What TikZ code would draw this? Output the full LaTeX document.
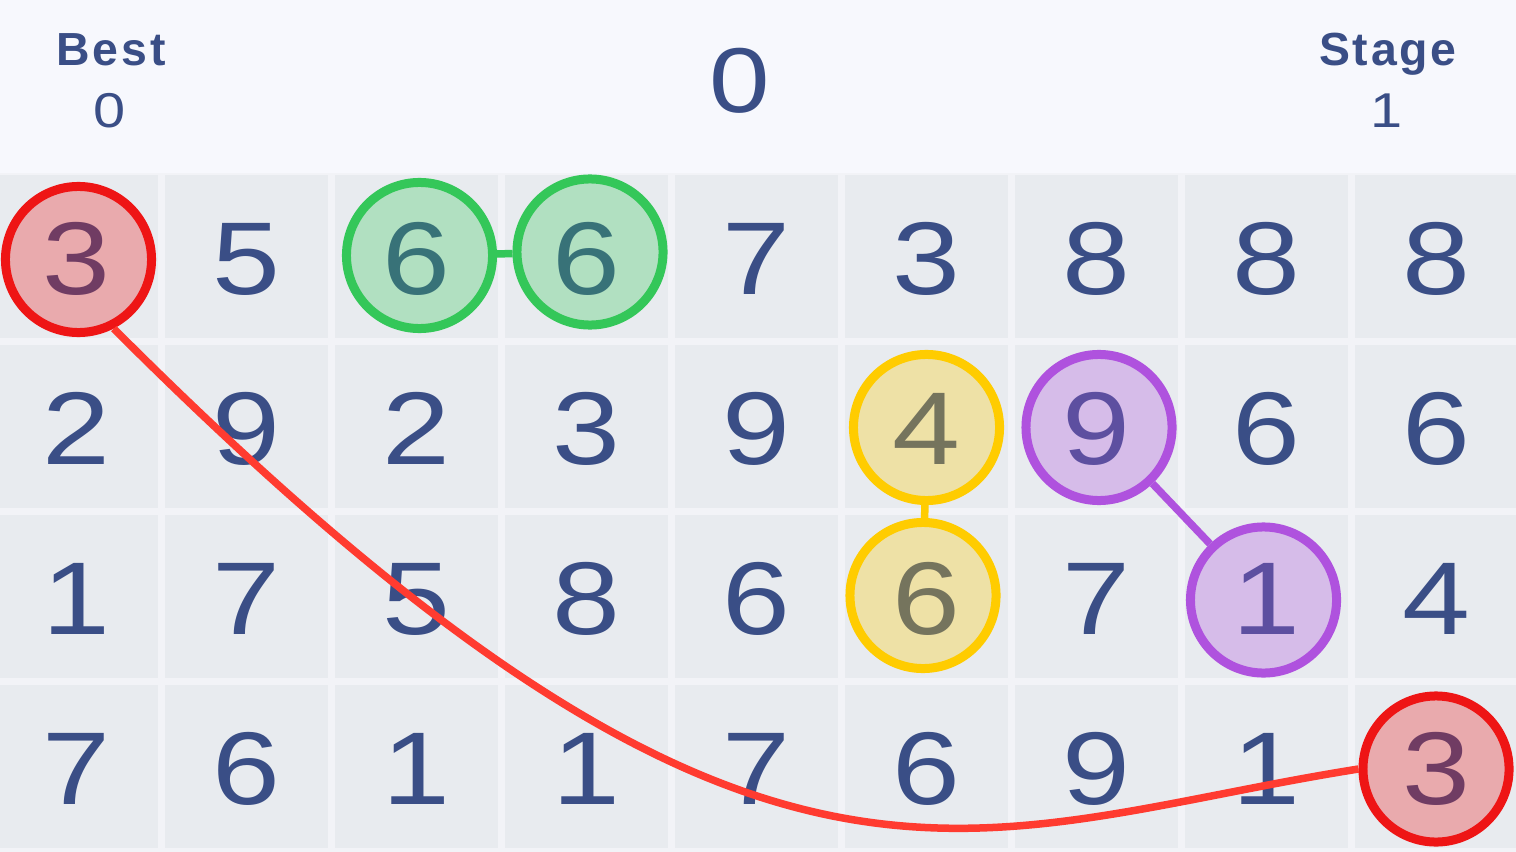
\documentclass[tikz,border=0pt]{standalone}
\usepackage{fontspec}
\setmainfont{Liberation Sans}
\newfontfamily\digitfont[FakeStretch=1.18]{Liberation Sans}
\newfontfamily\labelfont[LetterSpace=6]{Liberation Sans}
\definecolor{ink}{HTML}{3A4E86}
\definecolor{headerbg}{HTML}{F7F8FD}
\definecolor{gapbg}{HTML}{F2F3F7}
\definecolor{cellbg}{HTML}{E8EBEF}
\definecolor{ringred}{HTML}{EE1515}
\definecolor{curvered}{HTML}{FF3B30}
\definecolor{ringgreen}{HTML}{34C759}
\definecolor{ringyellow}{HTML}{FFCC00}
\definecolor{ringpurple}{HTML}{AF52DE}
\tikzset{
  digit/.style={font=\digitfont\fontsize{29.4}{30}\selectfont, text=ink, inner sep=0pt, text depth=0pt},
  ring/.style={circle, draw=#1, fill=#1, fill opacity=0.3, draw opacity=1, line width=0.09cm, minimum size=1.46cm, inner sep=0pt},
  linkline/.style={draw=#1, line width=0.075cm},
  curveline/.style={draw=curvered, line width=0.075cm},
  headlabel/.style={font=\labelfont\bfseries\fontsize{13.2}{14}\selectfont, text=ink, anchor=base, inner sep=0pt},
  headvalue/.style={font=\digitfont\fontsize{13.9}{15}\selectfont, text=ink, anchor=base, inner sep=0pt},
  score/.style={font=\digitfont\fontsize{26.2}{28}\selectfont, text=ink, anchor=base, inner sep=0pt}
}
\begin{document}
\begin{tikzpicture}[x=0.01cm,y=-0.01cm]
\useasboundingbox (0,0) rectangle (1516,852);
\fill[headerbg] (0,0) rectangle (1516,173);
\fill[gapbg] (0,173) rectangle (1516,852);
\foreach \r in {0,...,3} {
  \foreach \c in {0,...,8} {
    \fill[cellbg] ({-5+170*\c},{175+170*\r}) rectangle +(163,163);
  }
}
\foreach \row [count=\r from 0] in {{3,5,6,6,7,3,8,8,8},{2,9,2,3,9,4,9,6,6},{1,7,5,8,6,6,7,1,4},{7,6,1,1,7,6,9,1,3}} {
  \foreach \d [count=\c from 0] in \row {
    \node[digit] (d\r\c) at ({76.5+170*\c},{258.5+170*\r}) {\d};
  }
}
% header
\node[headlabel] (best) at (111,66) {Best};
\node[headvalue] (bestval) at (110,128) {0};
\node[score] (score) at (740,113) {0};
\node[headlabel] (stage) at (1388,66) {Stage};
\node[headvalue] (stageval) at (1387,128) {1};
% rings
\node[ring=ringred] (r1) at (78.5,259.5) {};
\node[ring=ringred] (r2) at (1436,769) {};
\node[ring=ringgreen] (g1) at (419.5,255.5) {};
\node[ring=ringgreen] (g2) at (590,252) {};
\node[ring=ringyellow] (y4) at (926.5,427.5) {};
\node[ring=ringyellow] (y6) at (923,595.5) {};
\node[ring=ringpurple] (p9) at (1099,427.5) {};
\node[ring=ringpurple] (p1) at (1263.5,600) {};
% connectors
\draw[linkline=ringgreen] (g1) -- (g2);
\draw[linkline=ringyellow] (y4) -- (y6);
\draw[linkline=ringpurple] (p9) -- (p1);
\draw[curveline] (r1.-63) .. controls (762,977) and (962,832) .. (r2.west);
\end{tikzpicture}
\end{document}
